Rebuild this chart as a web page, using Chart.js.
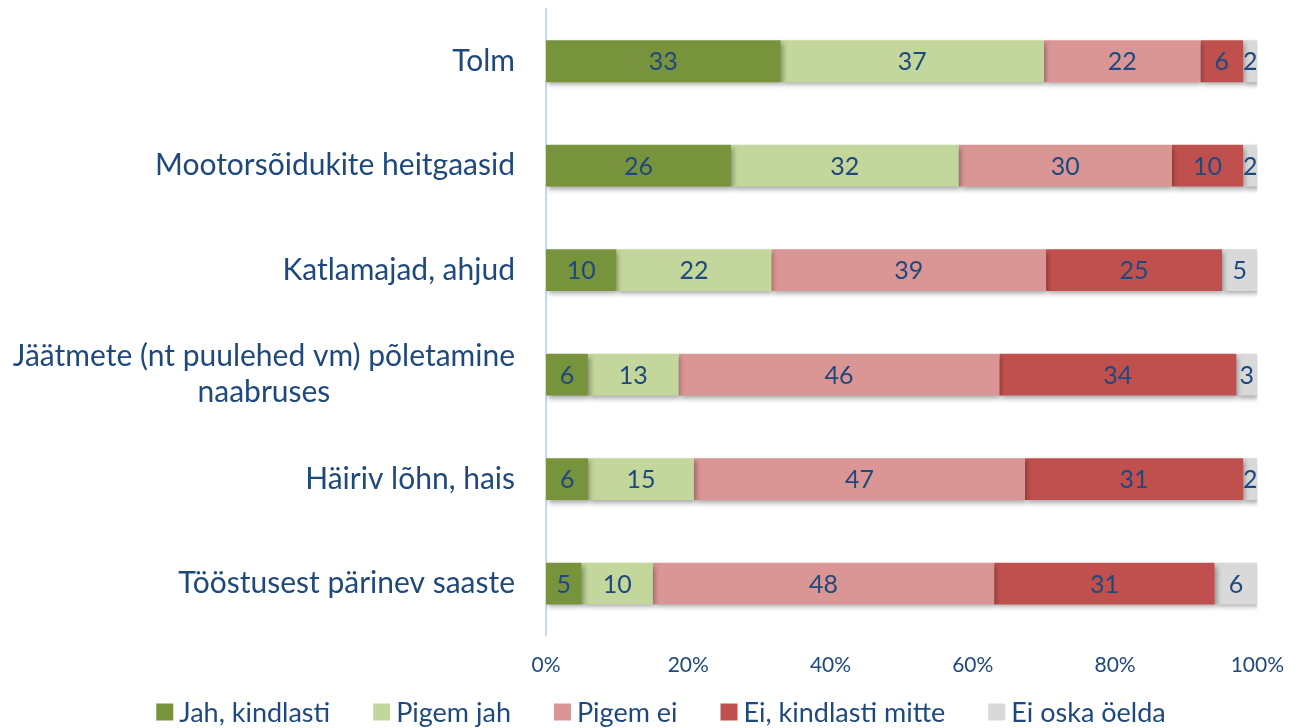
<!DOCTYPE html>
<html>
<head>
<meta charset="utf-8">
<script src="https://cdn.jsdelivr.net/npm/chart.js@4/dist/chart.umd.min.js"></script>
<style>
  html, body { margin: 0; padding: 0; background: #fff; }
  #wrap { width: 1301px; height: 728px; position: relative; }
</style>
</head>
<body>
<div id="wrap"><canvas id="chart"></canvas></div>
<script>
// categories (top to bottom)
const categories = [
    ['Tolm'],
    ['Mootorsõidukite heitgaasid'],
    ['Katlamajad, ahjud'],
    ['Jäätmete (nt puulehed vm) põletamine', 'naabruses'],
    ['Häiriv lõhn, hais'],
    ['Tööstusest pärinev saaste']
];

// answer shares, % as shown in the labels
const jahKindlasti = [33, 26, 10, 6, 6, 5];
const pigemJah = [37, 32, 22, 13, 15, 10];
const pigemEi = [22, 30, 39, 46, 47, 48];
const eiKindlasti = [6, 10, 25, 34, 31, 31];
const eiOska = [2, 2, 5, 3, 2, 6];

const seriesNames = ['Jah, kindlasti', 'Pigem jah', 'Pigem ei', 'Ei, kindlasti mitte', 'Ei oska öelda'];
const seriesValues = [jahKindlasti, pigemJah, pigemEi, eiKindlasti, eiOska];
const seriesColors = ['#77933C', '#C3D69B', '#D99694', '#C0504D', '#D9D9D9'];

const xTicks = [0, 20, 40, 60, 80, 100];

const textColor = '#1F497D';
const fontFamily = 'Lato, "Open Sans", sans-serif';

// 100% stacked: each row scaled to its own total
const rowTotals = categories.map((c, i) => seriesValues.reduce((s, arr) => s + arr[i], 0));

const datasets = seriesValues.map((vals, k) => ({
    label: seriesNames[k],
    data: vals.map((v, i) => v / rowTotals[i] * 100),
    rawValues: vals,
    backgroundColor: seriesColors[k],
    borderWidth: 0,
    barPercentage: 0.4,
    categoryPercentage: 1.0
}));

// soft shadow under the bars
const barShadow = {
    id: 'barShadow',
    beforeDatasetsDraw(chart) {
        const ctx = chart.ctx;
        ctx.save();
        ctx.shadowColor = 'rgba(0,0,0,0.35)';
        ctx.shadowBlur = 5;
        ctx.shadowOffsetX = 2;
        ctx.shadowOffsetY = 3;
    },
    afterDatasetsDraw(chart) {
        chart.ctx.restore();
    }
};

// value labels in the middle of each segment
const valueLabels = {
    id: 'valueLabels',
    afterDatasetsDraw(chart) {
        const ctx = chart.ctx;
        ctx.save();
        ctx.font = '25px ' + fontFamily;
        ctx.fillStyle = textColor;
        ctx.textAlign = 'center';
        ctx.textBaseline = 'middle';
        chart.data.datasets.forEach((ds, k) => {
            const meta = chart.getDatasetMeta(k);
            meta.data.forEach((bar, i) => {
                const p = bar.getProps(['x', 'y', 'base'], true);
                ctx.fillText(String(ds.rawValues[i]), (p.x + p.base) / 2, p.y + 1);
            });
        });
        ctx.restore();
    }
};

// category labels, multi-line ones centred under their widest line
const categoryLabels = {
    id: 'categoryLabels',
    afterDraw(chart) {
        const ctx = chart.ctx;
        const yScale = chart.scales.y;
        const rightEdge = chart.chartArea.left - 31;
        const lineHeight = 36;
        ctx.save();
        ctx.font = '30px ' + fontFamily;
        ctx.fillStyle = textColor;
        ctx.textBaseline = 'middle';
        ctx.textAlign = 'center';
        categories.forEach((lines, i) => {
            const yc = yScale.getPixelForValue(i);
            const widest = Math.max(...lines.map(l => ctx.measureText(l).width));
            const cx = rightEdge - widest / 2;
            lines.forEach((line, j) => {
                const y = yc + (j - (lines.length - 1) / 2) * lineHeight;
                ctx.fillText(line, cx, y);
            });
        });
        ctx.restore();
    }
};

// legend along the bottom: small square, short gap, text
const bottomLegend = {
    id: 'bottomLegend',
    afterDraw(chart) {
        const ctx = chart.ctx;
        const box = 17, gap = 6, itemGap = 43;
        const y = 712;
        ctx.save();
        ctx.font = '27px ' + fontFamily;
        ctx.textBaseline = 'middle';
        ctx.textAlign = 'left';
        const items = chart.data.datasets.map(ds => ({
            text: ds.label,
            color: ds.backgroundColor,
            w: box + gap + ctx.measureText(ds.label).width
        }));
        const total = items.reduce((s, it) => s + it.w, 0) + itemGap * (items.length - 1);
        let x = 661 - total / 2;
        items.forEach(it => {
            ctx.fillStyle = it.color;
            ctx.fillRect(x, y - box / 2, box, box);
            ctx.fillStyle = textColor;
            ctx.fillText(it.text, x + box + gap, y + 1);
            x += it.w + itemGap;
        });
        ctx.restore();
    }
};

new Chart(document.getElementById('chart'), {
    type: 'bar',
    data: {
        labels: categories.map(c => c.join(' ')),
        datasets
    },
    options: {
        indexAxis: 'y',
        responsive: true,
        maintainAspectRatio: false,
        animation: false,
        layout: {
            padding: { top: 9, right: 43, left: 0, bottom: 33 }
        },
        scales: {
            x: {
                stacked: true,
                min: 0,
                max: 100,
                afterBuildTicks: scale => {
                    scale.ticks = xTicks.map(v => ({ value: v }));
                },
                grid: { display: false, drawTicks: false },
                border: { display: false },
                ticks: {
                    padding: 17,
                    color: textColor,
                    font: { size: 21, family: fontFamily },
                    callback: v => v + '%'
                }
            },
            y: {
                stacked: true,
                grid: { display: false, drawTicks: false },
                border: { display: true, color: '#C6D9F1', width: 2 },
                ticks: { display: false },
                afterFit: scale => { scale.width = 546; }
            }
        },
        plugins: {
            legend: { display: false },
            tooltip: { enabled: false }
        }
    },
    plugins: [barShadow, valueLabels, categoryLabels, bottomLegend]
});
</script>
</body>
</html>
